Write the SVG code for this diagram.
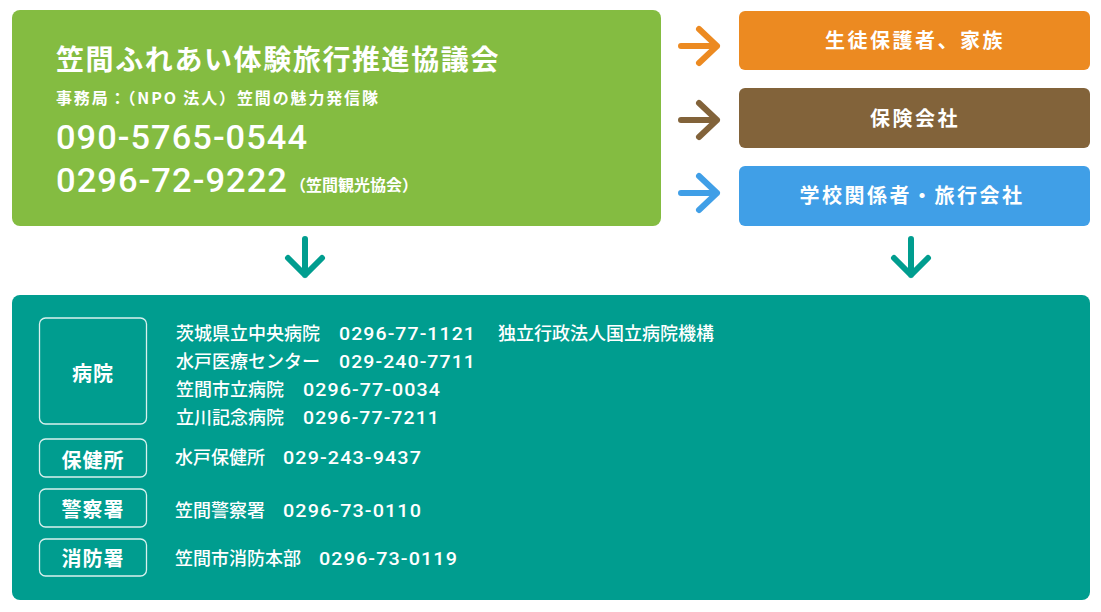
<svg xmlns="http://www.w3.org/2000/svg" width="1101" height="612" viewBox="0 0 1101 612">
<style>
.jp{font-family:"Noto Sans CJK JP","Liberation Sans",sans-serif;fill:#fff}
.num{font-family:Roboto,"Liberation Sans",sans-serif;fill:#fff}
.b{font-weight:700}
.m{font-weight:500}
.arr{fill:none;stroke-width:6;stroke-linecap:round;stroke-linejoin:round}
.lbl{fill:none;stroke:#fff;stroke-width:1.3;opacity:0.85}
.head{font-size:20px;font-weight:700;text-anchor:middle;letter-spacing:2.5px}
.row{font-size:18px;font-weight:500}
.rn{font-size:18px;font-weight:500;letter-spacing:1px}
.tag{font-size:20px;font-weight:700;text-anchor:middle;letter-spacing:1px}
</style>
<rect width="1101" height="612" fill="#fff"/>

<g id="council">
<rect x="12" y="10" width="649" height="216" rx="8" fill="#84BC41"/>
<text class="jp b" x="56" y="70" font-size="28" letter-spacing="1.6">笠間ふれあい体験旅行推進協議会</text>
<text class="jp b" x="56" y="104" font-size="16" textLength="322" lengthAdjust="spacing">事務局：（NPO 法人）笠間の魅力発信隊</text>
<text class="num m" x="56" y="149" font-size="33" letter-spacing="1" textLength="252" lengthAdjust="spacingAndGlyphs">090-5765-0544</text>
<text class="num m" x="56" y="192" font-size="33" letter-spacing="1" textLength="232" lengthAdjust="spacingAndGlyphs">0296-72-9222</text>
<text class="jp b" x="290" y="191" font-size="16">（笠間観光協会）</text>
</g>

<g id="parents">
<rect x="739" y="11" width="351" height="59" rx="6" fill="#EC8A21"/>
<text class="jp head" x="915" y="48">生徒保護者、家族</text>
</g>
<g id="insurance">
<rect x="739" y="88" width="351" height="60" rx="6" fill="#82633A"/>
<text class="jp head" x="915" y="126">保険会社</text>
</g>
<g id="school">
<rect x="739" y="166" width="351" height="60" rx="6" fill="#409FE7"/>
<text class="jp head" x="912" y="203">学校関係者・旅行会社</text>
</g>

<g id="connectors">
<g stroke="#EC8A21" class="arr"><path d="M681 46H717M699 29L717 46L699 63"/></g>
<g stroke="#82633A" class="arr"><path d="M681 120H717M699 103L717 120L699 137"/></g>
<g stroke="#409FE7" class="arr"><path d="M681 193H717M699 176L717 193L699 210"/></g>
<g stroke="#009D8F" class="arr"><path d="M305 239V275M288 258L305 275L322 258"/></g>
<g stroke="#009D8F" class="arr"><path d="M911 239V275M894 258L911 275L928 258"/></g>
</g>

<g id="contacts">
<rect x="12" y="295" width="1078" height="305" rx="8" fill="#009D8F"/>

<g id="hospital">
<rect class="lbl" x="39.5" y="318" width="107" height="106" rx="6"/>
<text class="jp tag" x="93" y="381">病院</text>
<text class="jp row" x="176" y="340">茨城県立中央病院</text>
<text class="num rn" x="339" y="340" textLength="137" lengthAdjust="spacingAndGlyphs">0296-77-1121</text>
<text class="jp row" x="498" y="340">独立行政法人国立病院機構</text>
<text class="jp row" x="176" y="368">水戸医療センター</text>
<text class="num rn" x="339" y="368" textLength="137" lengthAdjust="spacingAndGlyphs">029-240-7711</text>
<text class="jp row" x="176" y="396">笠間市立病院</text>
<text class="num rn" x="303" y="396" textLength="138" lengthAdjust="spacingAndGlyphs">0296-77-0034</text>
<text class="jp row" x="176" y="424">立川記念病院</text>
<text class="num rn" x="303" y="424" textLength="137" lengthAdjust="spacingAndGlyphs">0296-77-7211</text>
</g>

<g id="health">
<rect class="lbl" x="39.5" y="439" width="107" height="38" rx="6"/>
<text class="jp tag" x="93" y="468">保健所</text>
<text class="jp row" x="175" y="464">水戸保健所</text>
<text class="num rn" x="283" y="464" textLength="139" lengthAdjust="spacingAndGlyphs">029-243-9437</text>
</g>

<g id="police">
<rect class="lbl" x="39.5" y="489" width="107" height="38" rx="6"/>
<text class="jp tag" x="93" y="517">警察署</text>
<text class="jp row" x="175" y="517">笠間警察署</text>
<text class="num rn" x="283" y="517" textLength="139" lengthAdjust="spacingAndGlyphs">0296-73-0110</text>
</g>

<g id="fire">
<rect class="lbl" x="39.5" y="539" width="107" height="37" rx="6"/>
<text class="jp tag" x="93" y="566">消防署</text>
<text class="jp row" x="175" y="565">笠間市消防本部</text>
<text class="num rn" x="319" y="565" textLength="139" lengthAdjust="spacingAndGlyphs">0296-73-0119</text>
</g>
</g>
</svg>
